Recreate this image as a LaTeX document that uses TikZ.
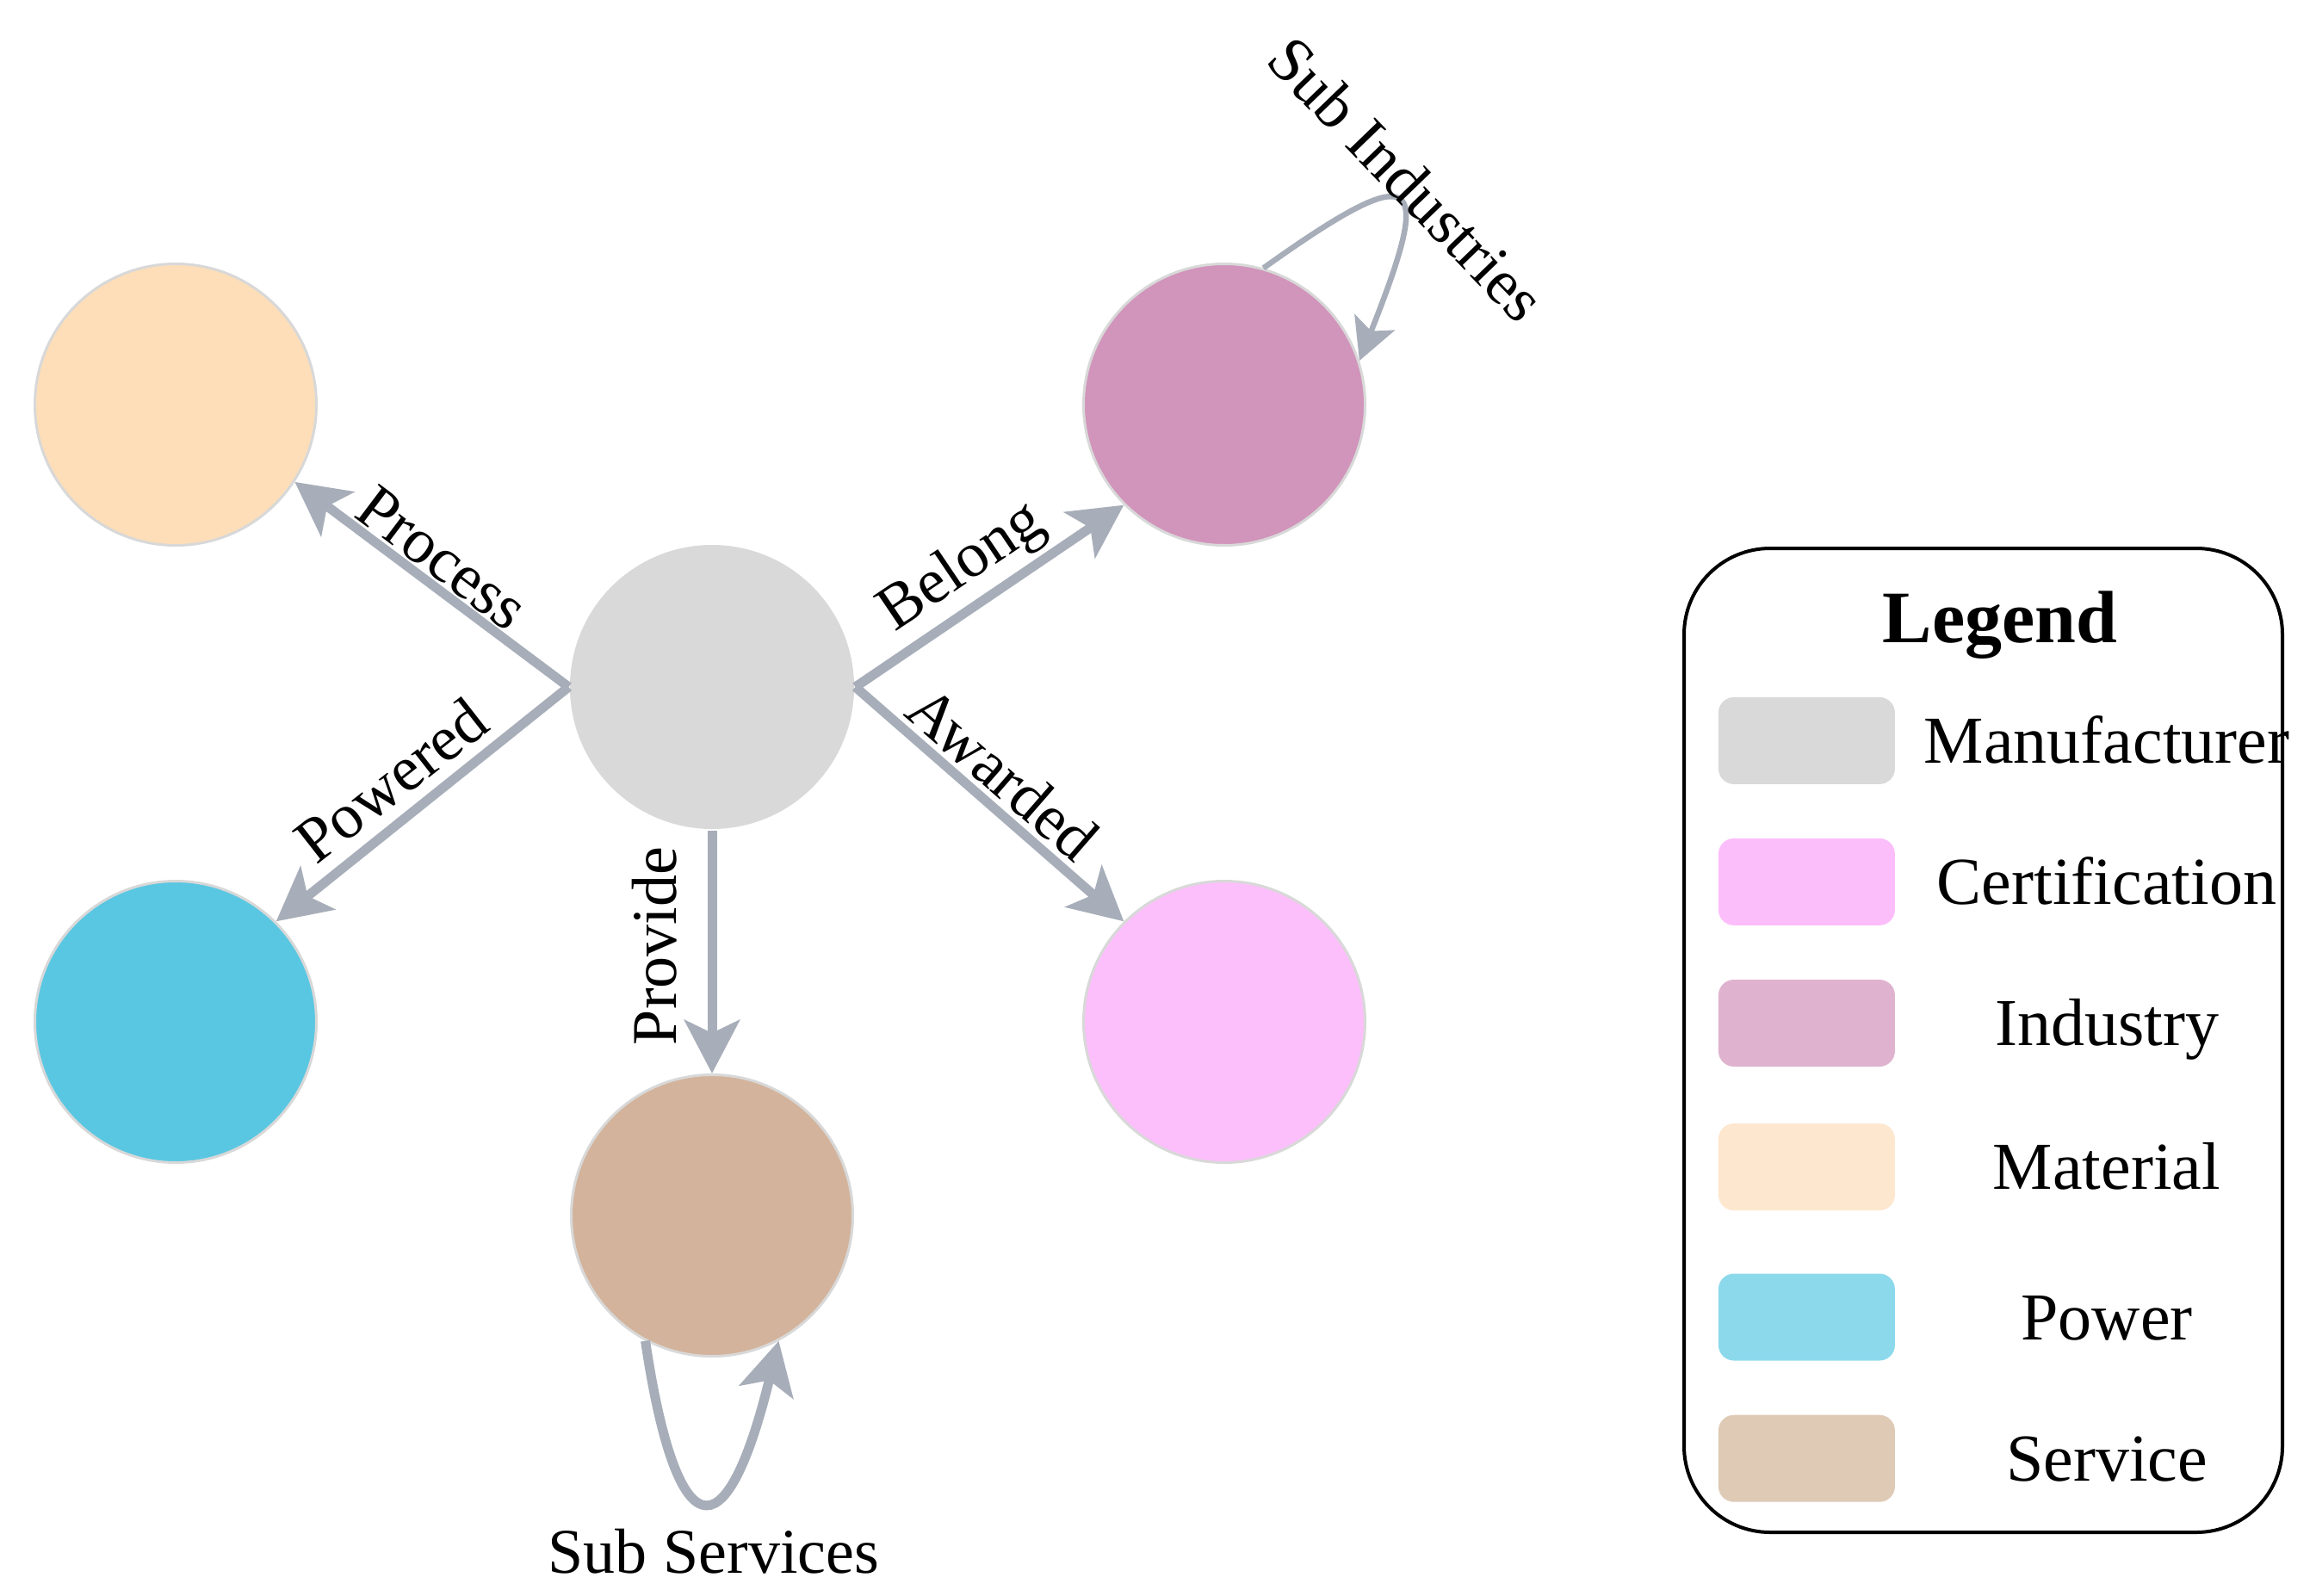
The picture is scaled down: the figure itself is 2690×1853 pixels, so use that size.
\documentclass[tikz,border=0pt]{standalone}
\usepackage{fontspec}
\setmainfont{Liberation Serif}
\usetikzlibrary{arrows.meta}
\definecolor{cman}{HTML}{D9D9D9}
\definecolor{cmat}{HTML}{FDDEB8}
\definecolor{cind}{HTML}{D194BB}
\definecolor{cpow}{HTML}{5AC7E2}
\definecolor{ccert}{HTML}{FCBFFB}
\definecolor{cser}{HTML}{D3B39B}
\definecolor{bord}{HTML}{D8D8D8}
\definecolor{edgec}{HTML}{A7AEB9}
\definecolor{lman}{HTML}{D9D9D9}
\definecolor{lcert}{HTML}{FCBEFB}
\definecolor{lind}{HTML}{DFB3CF}
\definecolor{lmat}{HTML}{FEE7CF}
\definecolor{lpow}{HTML}{8DD9EC}
\definecolor{lser}{HTML}{DFCAB6}
\newcommand\lblfont{\fontsize{74pt}{80pt}\selectfont}
\newcommand\legfont{\fontsize{78pt}{84pt}\selectfont}
\newcommand\ttlfont{\fontsize{86pt}{92pt}\selectfont\bfseries}
\begin{document}
\begin{tikzpicture}[x=1pt,y=-1pt,
  ent/.style={circle, minimum size=327pt, inner sep=0pt, line width=3pt, draw=bord},
  rel/.style={draw=edgec, line width=11pt, -{Stealth[length=62pt,width=64pt,inset=15pt]}},
  loopthin/.style={draw=edgec, line width=6.5pt, -{Stealth[length=48pt,width=50pt,inset=11pt]}},
  loopthick/.style={draw=edgec, line width=11pt, -{Stealth[length=61pt,width=64pt,inset=14pt]}},
  lbl/.style={font=\lblfont, inner sep=0pt},
  swatch/.style={rectangle, rounded corners=18pt, minimum width=205pt, minimum height=101pt, inner sep=0pt, draw=none},
  legtxt/.style={font=\legfont, inner sep=0pt, anchor=base},
  ttl/.style={font=\ttlfont, inner sep=0pt, anchor=base}]
\useasboundingbox (0,0) rectangle (2690,1853);
% entity nodes
\node[ent, fill=cman, draw=none, minimum size=330pt] (man) at (827,798) {};
\node[ent, fill=cmat] (mat) at (204,470) {};
\node[ent, fill=cind] (ind) at (1422,470) {};
\node[ent, fill=cpow] (pow) at (204,1187) {};
\node[ent, fill=ccert] (cert) at (1422,1187) {};
\node[ent, fill=cser] (ser) at (827,1412) {};
% relations
\draw[rel] (man.west) -- (mat.-33);
\draw[rel] (man.west) -- (pow.north east);
\draw[rel] (man.east) -- (ind.south west);
\draw[rel] (man.east) -- (cert.north west);
\draw[rel] (man.south) -- (ser.north);
\draw[loopthin] (ind.74) .. controls (1653,179) and (1664,205) .. (ind.18.6);
\draw[loopthick] (ser.-118) .. controls (785,1795) and (842,1814) .. (ser.-62.5);
% labels
\node[lbl, rotate=-37] (lproc) at (514,648) {Process};
\node[lbl, rotate=38] (lpowd) at (454,906) {Powered};
\node[lbl, rotate=34] (lbel) at (1118,660) {Belong};
\node[lbl, rotate=-41] (lawd) at (1165,898) {Awarded};
\node[lbl, rotate=90] (lprov) at (760,1099) {Provide};
\node[lbl, rotate=-46] (lsubi) at (1634,208) {Sub Industries};
\node[lbl, anchor=base] (lsubs) at (829,1827) {Sub Services};
% legend
\node[draw=black, line width=4pt, rounded corners=100pt, minimum width=695pt, minimum height=1143pt, inner sep=0pt] (legend) at (2303.5,1208.5) {};
\node[ttl] (lgt) at (2323,746) {Legend};
\foreach \c/\yy/\t [count=\i] in {lman/860.4/Manufacturer, lcert/1024.4/Certification, lind/1188.5/Industry, lmat/1355.6/Material, lpow/1530/Power, lser/1694.2/Service} {
  \node[swatch, fill=\c] (sw\i) at (2098.4,\yy) {};
  \node[legtxt] (lt\i) at (2447,\yy+26) {\t};
}
\end{tikzpicture}
\end{document}
